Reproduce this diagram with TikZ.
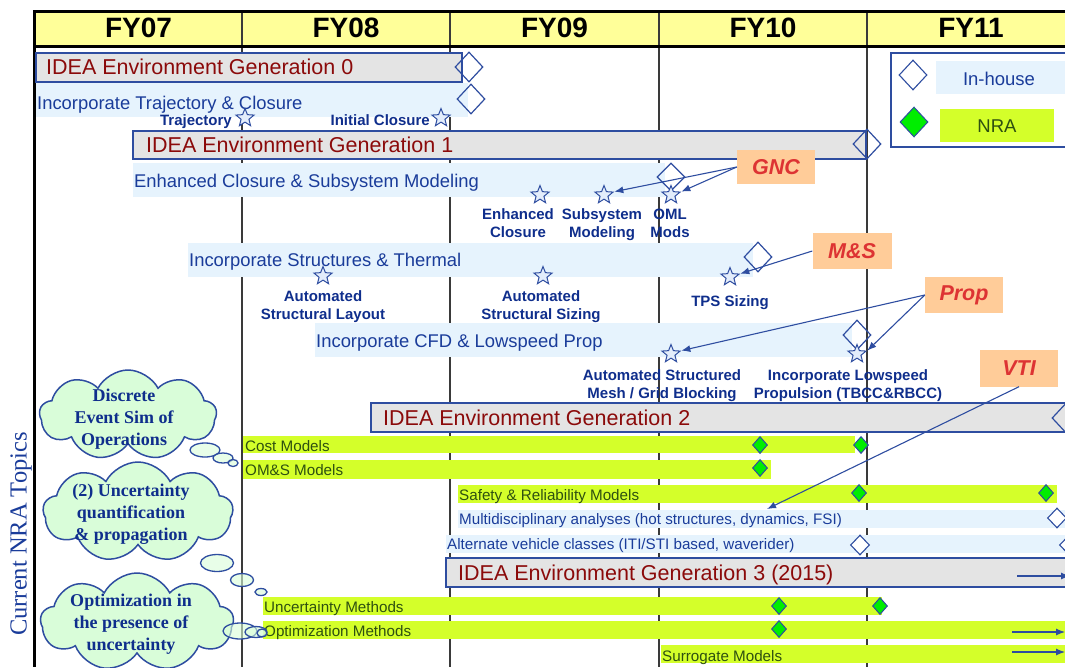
\documentclass[tikz,border=0pt]{standalone}
\usepackage{fontspec}
\setmainfont{Liberation Sans}
\newfontfamily\serifb{Liberation Serif}
\usetikzlibrary{shapes.geometric,shapes.symbols,arrows.meta}
\definecolor{hdryellow}{HTML}{FFFF99}
\definecolor{gengray}{HTML}{E4E4E4}
\definecolor{genborder}{HTML}{2E4DA0}
\definecolor{genred}{HTML}{8B0A0A}
\definecolor{bandblue}{HTML}{E6F3FD}
\definecolor{txtblue}{HTML}{1A3C9A}
\definecolor{lblblue}{HTML}{0F2E8C}
\definecolor{nragreen}{HTML}{D4FF2A}
\definecolor{nratxt}{HTML}{2E5010}
\definecolor{diagreen}{HTML}{00EE00}
\definecolor{orangebox}{HTML}{FFCC99}
\definecolor{orangetxt}{HTML}{DD3333}
\definecolor{cloudgreen}{HTML}{D9FDD9}
\definecolor{divgray}{HTML}{3A3A3A}
\definecolor{starfill}{HTML}{E3EDFB}
\newcommand{\mylines}[2]{\begin{tabular}[t]{@{}c@{}}#1\\#2\end{tabular}}
\newcommand{\mythree}[3]{\begin{tabular}[t]{@{}c@{}}#1\\#2\\#3\end{tabular}}
\begin{document}
\begin{tikzpicture}[x=1pt,y=-1pt,
  divider/.style={draw=divgray,line width=1.8pt},
  hdr/.style={anchor=base,inner sep=0,font=\bfseries\fontsize{28}{32}\selectfont},
  genbar/.style={draw=genborder,fill=gengray,line width=1.3pt},
  gentitle/.style={anchor=base west,inner sep=0,text=genred,font=\fontsize{21.5}{25}\selectfont},
  bandtxt/.style={anchor=base west,inner sep=0,text=txtblue,font=\fontsize{18.4}{22}\selectfont},
  smalltxt/.style={anchor=base west,inner sep=0,text=txtblue,font=\fontsize{15.2}{18}\selectfont},
  nratext/.style={anchor=base west,inner sep=0,text=nratxt,font=\fontsize{15.2}{18}\selectfont},
  lbl/.style={anchor=base,inner sep=0,text=lblblue,font=\bfseries\fontsize{15}{18}\selectfont},
  dia/.style={diamond,draw=genborder,line width=1.2pt,inner sep=0,minimum width=28pt,minimum height=30pt},
  wdia/.style={diamond,draw=genborder,fill=white,line width=1.1pt,inner sep=0,minimum width=19pt,minimum height=20pt},
  gdia/.style={diamond,draw=genborder,fill=diagreen,line width=1pt,inner sep=0,minimum width=15pt,minimum height=17pt},
  stern/.style={star,star points=5,star point ratio=2.3,draw=genborder,fill=starfill,line width=1pt,inner sep=0,minimum size=19pt},
  obox/.style={fill=orangebox,text=orangetxt,inner sep=0,font=\bfseries\itshape\fontsize{21.5}{25}\selectfont},
  arr/.style={draw=genborder,line width=1.1pt,-{Latex[length=9pt,width=7pt]}},
  puff/.style={cloud,cloud puffs=9,cloud puff arc=125,draw=genborder,fill=cloudgreen,line width=1.5pt,inner sep=0},
  bub/.style={ellipse,draw=genborder,fill=cloudgreen,fill opacity=0.6,draw opacity=1,line width=1.3pt,inner sep=0},
  cloudtxt/.style={anchor=base,inner sep=0,text=lblblue,font=\serifb\bfseries\fontsize{18}{22}\selectfont},
  legtxt/.style={anchor=base,inner sep=0,font=\fontsize{18.5}{22}\selectfont}
]
\useasboundingbox (0,0) rectangle (1065,667);
\clip (0,0) rectangle (1065,667);
% header
\fill[hdryellow] (34,11) rectangle (1075,46);
\foreach \x in {242,450,659,867} \draw[divider] (\x,12) -- (\x,667);
\draw[line width=3pt] (1075,11) -- (34,11) -- (34,667);
\draw[line width=3pt] (34,46) -- (1075,46);
\node[hdr] (fy07) at (138.5,37) {FY07};
\node[hdr] (fy08) at (346,37) {FY08};
\node[hdr] (fy09) at (554.5,37) {FY09};
\node[hdr] (fy10) at (763,37) {FY10};
\node[hdr] (fy11) at (971,37) {FY11};
% Generation 0
\draw[genbar] (36,53) rectangle (462,82);
\node[gentitle] (g0) at (46,74) {IDEA Environment Generation 0};
\node[dia] (d0) at (469,67) {};
\fill[bandblue] (36,83) rectangle (468,117);
\node[bandtxt] (t1) at (37,109) {Incorporate Trajectory \& Closure};
\node[dia] (d1) at (471,99) {};
\node[stern] (s1) at (245,118) {};
\node[stern] (s2) at (441,118) {};
\node[lbl,anchor=base east] (l1) at (232,125) {Trajectory};
\node[lbl,anchor=base east] (l2) at (430,125) {Initial Closure};
% Generation 1
\draw[genbar] (133,131) rectangle (866,159);
\node[gentitle] (g1) at (146,152) {IDEA Environment Generation 1};
\node[dia] (dg1) at (867,144) {};
\fill[bandblue] (133,163) rectangle (665,197);
\node[bandtxt] (t2) at (134,187) {Enhanced Closure \& Subsystem Modeling};
\node[dia,minimum height=28pt] (d2) at (671,177) {};
\node[stern] (s3) at (540,195) {};
\node[stern] (s4) at (604,195) {};
\node[stern] (s5) at (671,195) {};
\node[lbl] (l3) at (518,219) {\mylines{Enhanced}{Closure}};
\node[lbl] (l4) at (602,219) {\mylines{Subsystem}{Modeling}};
\node[lbl] (l5) at (670,219) {\mylines{OML}{Mods}};
\fill[bandblue] (188,243) rectangle (753,277);
\node[bandtxt] (t3) at (189,266) {Incorporate Structures \& Thermal};
\node[dia] (d3) at (758,257) {};
\node[stern] (s6) at (323,276) {};
\node[stern] (s7) at (543,276) {};
\node[stern] (s8) at (730,277) {};
\node[lbl] (l6) at (323,301) {\mylines{Automated}{Structural Layout}};
\node[lbl] (l7) at (541,301) {\mylines{Automated}{Structural Sizing}};
\node[lbl] (l8) at (730,306) {TPS Sizing};
\fill[bandblue] (315,323) rectangle (852,357);
\node[bandtxt] (t4) at (316,347) {Incorporate CFD \& Lowspeed Prop};
\node[dia] (d4) at (857,335) {};
\node[stern] (s9) at (671,354) {};
\node[stern] (s10) at (857,354) {};
\node[lbl] (l9) at (662,380) {\mylines{Automated Structured}{Mesh / Grid Blocking}};
\node[lbl] (l10) at (848,380) {\mylines{Incorporate Lowspeed}{Propulsion (TBCC\&RBCC)}};
% discipline boxes
\node[obox,minimum width=78pt,minimum height=34pt] (gnc) at (776,167) {GNC\hspace{8pt}};
\node[obox,minimum width=79pt,minimum height=36pt] (ms) at (852,251) {M\&S\hspace{6pt}};
\node[obox,minimum width=78pt,minimum height=36pt] (prop) at (964,295) {Prop\hspace{6pt}};
\node[obox,minimum width=78pt,minimum height=37pt] (vti) at (1019,368) {VTI\hspace{18pt}};
\draw[arr] (gnc.west) -- (s4.18);
\draw[arr] (gnc.west) -- (s5.18);
\draw[arr] (ms.west) -- (s8.18);
\draw[arr] (prop.west) -- (s9.18);
\draw[arr] (prop.west) -- (s10.18);
% Generation 2
\draw[genbar] (371,403) rectangle (1085,432);
\node[gentitle] (g2) at (383,425) {IDEA Environment Generation 2};
\node[dia] (dg2) at (1066,418) {};
\fill[nragreen] (243,436) rectangle (855,453);
\node[nratext] (n1) at (245,451) {Cost Models};
\node[gdia] (gd1) at (760,445) {};
\node[gdia] (gd2) at (861,445) {};
\fill[nragreen] (243,460) rectangle (771,479);
\node[nratext] (n2) at (245,475) {OM\&S Models};
\node[gdia] (gd3) at (760,468) {};
\fill[nragreen] (458,485) rectangle (1057,503);
\node[nratext] (n3) at (459,500) {Safety \& Reliability Models};
\node[gdia] (gd4) at (859,493) {};
\node[gdia] (gd5) at (1046,493) {};
\fill[bandblue] (458,510) rectangle (1080,528);
\node[smalltxt] (m1) at (459,524) {Multidisciplinary analyses (hot structures, dynamics, FSI)};
\node[wdia] (wd1) at (1057,518) {};
\coordinate (vtiend) at (767,509);
\fill[bandblue] (446,535) rectangle (1080,553);
\node[smalltxt] (m2) at (447,549) {Alternate vehicle classes (ITI/STI based, waverider)};
\node[wdia] (wd2) at (860,545) {};
\node[wdia] (wd3) at (1069,545) {};
\draw[arr] (vti.south) -- (vtiend);
% Generation 3
\draw[genbar] (446,558) rectangle (1085,587);
\node[gentitle] (g3) at (458,580) {IDEA Environment Generation 3 (2015)};
\coordinate (a3s) at (1017,576);
\coordinate (a3e) at (1070,576);
\draw[arr] (a3s) -- (a3e);
\fill[nragreen] (263,597) rectangle (882,615);
\node[nratext] (n4) at (264,612) {Uncertainty Methods};
\node[gdia] (gd6) at (779,606) {};
\node[gdia] (gd7) at (880,606) {};
\fill[nragreen] (263,621) rectangle (1080,639);
\node[nratext] (n5) at (264,636) {Optimization Methods};
\node[gdia] (gd8) at (779,629) {};
\coordinate (a4s) at (1012,632);
\coordinate (a4e) at (1065,632);
\draw[arr] (a4s) -- (a4e);
\fill[nragreen] (661,645) rectangle (1080,663);
\node[nratext] (n6) at (662,661) {Surrogate Models};
\coordinate (a5s) at (1012,652);
\coordinate (a5e) at (1065,652);
\draw[arr] (a5s) -- (a5e);
% clouds
\node[puff,minimum width=177pt,minimum height=90pt] (c1) at (128,415) {};
\node[cloudtxt] (c1t) at (124,401) {\mythree{Discrete}{Event Sim of}{Operations}};
\node[bub,minimum width=30pt,minimum height=14pt] (b11) at (205,450) {};
\node[bub,minimum width=20pt,minimum height=10pt] (b12) at (223,458) {};
\node[bub,minimum width=10pt,minimum height=7pt] (b13) at (233,463) {};
\node[puff,minimum width=190pt,minimum height=100pt] (c2) at (138,512) {};
\node[cloudtxt] (c2t) at (131,496) {\mythree{(2) Uncertainty}{quantification}{\& propagation}};
\node[bub,minimum width=33pt,minimum height=17pt] (b21) at (217,563) {};
\node[bub,minimum width=23pt,minimum height=13pt] (b22) at (242,580) {};
\node[bub,minimum width=12pt,minimum height=7pt] (b23) at (261,592) {};
\node[puff,minimum width=193pt,minimum height=98pt] (c3) at (137,622) {};
\node[cloudtxt] (c3t) at (131,606) {\mythree{Optimization in}{the presence of}{uncertainty}};
\node[bub,minimum width=34pt,minimum height=16pt] (b31) at (240,631) {};
\node[bub,minimum width=22pt,minimum height=11pt] (b32) at (256,632) {};
\node[bub,minimum width=10pt,minimum height=8pt] (b33) at (262,633) {};
\node[rotate=90,inner sep=0,text=txtblue,font=\serifb\fontsize{24.5}{28}\selectfont] (nra) at (21,534) {Current NRA Topics};
% legend
\draw[draw=genborder,fill=white,line width=2.2pt] (891,53) rectangle (1080,147);
\fill[bandblue] (936,61) rectangle (1070,94);
\node[legtxt,text=txtblue] (lg1) at (999,85) {In-house};
\node[wdia,minimum width=28pt,minimum height=30pt] (lgd1) at (913,75) {};
\fill[nragreen] (940,109) rectangle (1054,142);
\node[legtxt,text=nratxt] (lg2) at (997,132) {NRA};
\node[gdia,minimum width=28pt,minimum height=30pt] (lgd2) at (914,122) {};
\end{tikzpicture}
\end{document}
